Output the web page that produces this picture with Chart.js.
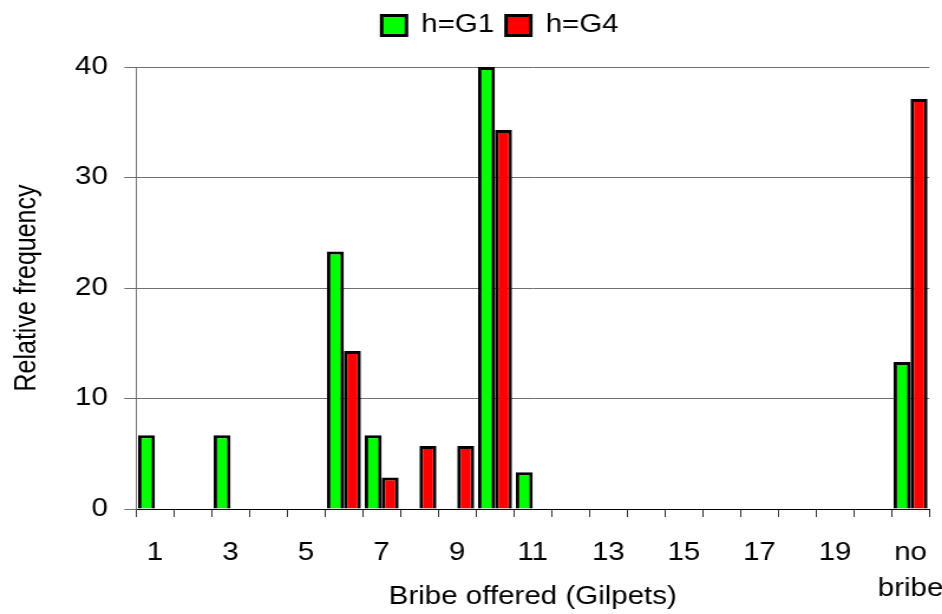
<!DOCTYPE html>
<html lang="en">
<head>
  <meta charset="UTF-8">
  <title>Bribe offered</title>
  <script src="https://cdn.jsdelivr.net/npm/chart.js"></script>
  <style>
    body { margin: 0; background: #fff; overflow: hidden; }
    /* the original picture is stretched sideways, so the canvas is too */
    #wrap {
      width: 798px; height: 614px;
      transform: scaleX(1.1805); transform-origin: 0 0;
    }
  </style>
</head>
<body>

<div id="wrap">
  <canvas id="bribeChart"></canvas>
</div>

<script>
  const categories = ['1', '2', '3', '4', '5', '6', '7', '8', '9', '10', '11', '12', '13', '14',
                      '15', '16', '17', '18', '19', '20', ['no', 'bribe']];
  const seriesNames = ['h=G1', 'h=G4'];
  const g1Values = [6.67, null, 6.67, null, null, 23.3, 6.67, null, null, 40, 3.33, null, null, null,
                    null, null, null, null, null, null, 13.3];
  const g4Values = [null, null, null, null, null, 14.3, 2.86, 5.71, 5.71, 34.3, null, null, null, null,
                    null, null, null, null, null, null, 37.1];
  const yTicks = [0, 10, 20, 30, 40];

  const font = { family: "'Liberation Sans', Arial, sans-serif", size: 25 };

  // fix legend height and nudge it, like the original
  const legendFix = {
    id: 'legendFix',
    beforeInit(chart) {
      const fit = chart.legend.fit;
      chart.legend.fit = function () {
        fit.call(this);
        this.height = 67;
      };
    },
    afterLayout(chart) {
      chart.legend.left += 30;
      chart.legend.right += 30;
      chart.legend.top += 3;
    }
  };

  Chart.defaults.font.family = font.family;
  Chart.defaults.color = '#000';

  const ctx = document.getElementById('bribeChart').getContext('2d');
  new Chart(ctx, {
    type: 'bar',
    data: {
      labels: categories,
      datasets: [{
        label: seriesNames[0],
        data: g1Values,
        backgroundColor: '#00ff00',
        borderColor: '#000',
        borderWidth: 3
      }, {
        label: seriesNames[1],
        data: g4Values,
        backgroundColor: '#ff0000',
        borderColor: '#000',
        borderWidth: 3
      }]
    },
    options: {
      responsive: true,
      maintainAspectRatio: false,
      animation: false,
      datasets: { bar: { categoryPercentage: 0.9, barPercentage: 1 } },
      layout: { padding: { left: 0, right: 10.7, top: 0, bottom: 0 } },
      plugins: {
        tooltip: { enabled: false },
        legend: {
          labels: { boxWidth: 21, boxHeight: 20, padding: 10, font: font, color: '#000' }
        }
      },
      scales: {
        x: {
          afterFit(scale) {
            scale.height = 105;
            scale.paddingLeft = 0;
            scale.paddingRight = 0;
          },
          border: { color: '#000', width: 1 },
          grid: { display: true, drawOnChartArea: false, tickLength: 8, color: '#333' },
          ticks: {
            autoSkip: false, maxRotation: 0, padding: 18,
            font: { family: font.family, size: 25, lineHeight: 1.45 },
            callback(v, i) { return i % 2 === 0 ? this.getLabelForValue(v) : ''; }
          },
          title: { display: true, text: 'Bribe offered (Gilpets)', font: font, padding: { top: 0, bottom: 2 } }
        },
        y: {
          min: 0, max: 40,
          afterFit(scale) { scale.width = 115.3; },
          afterBuildTicks(scale) { scale.ticks = yTicks.map(v => ({ value: v })); },
          border: { color: '#707070', width: 1 },
          grid: { color: '#707070', tickLength: 10 },
          ticks: { padding: 14, font: font },
          title: { display: true, text: 'Relative frequency', font: font, padding: { top: 8, bottom: 0 } }
        }
      }
    },
    plugins: [legendFix]
  });
</script>

</body>
</html>
